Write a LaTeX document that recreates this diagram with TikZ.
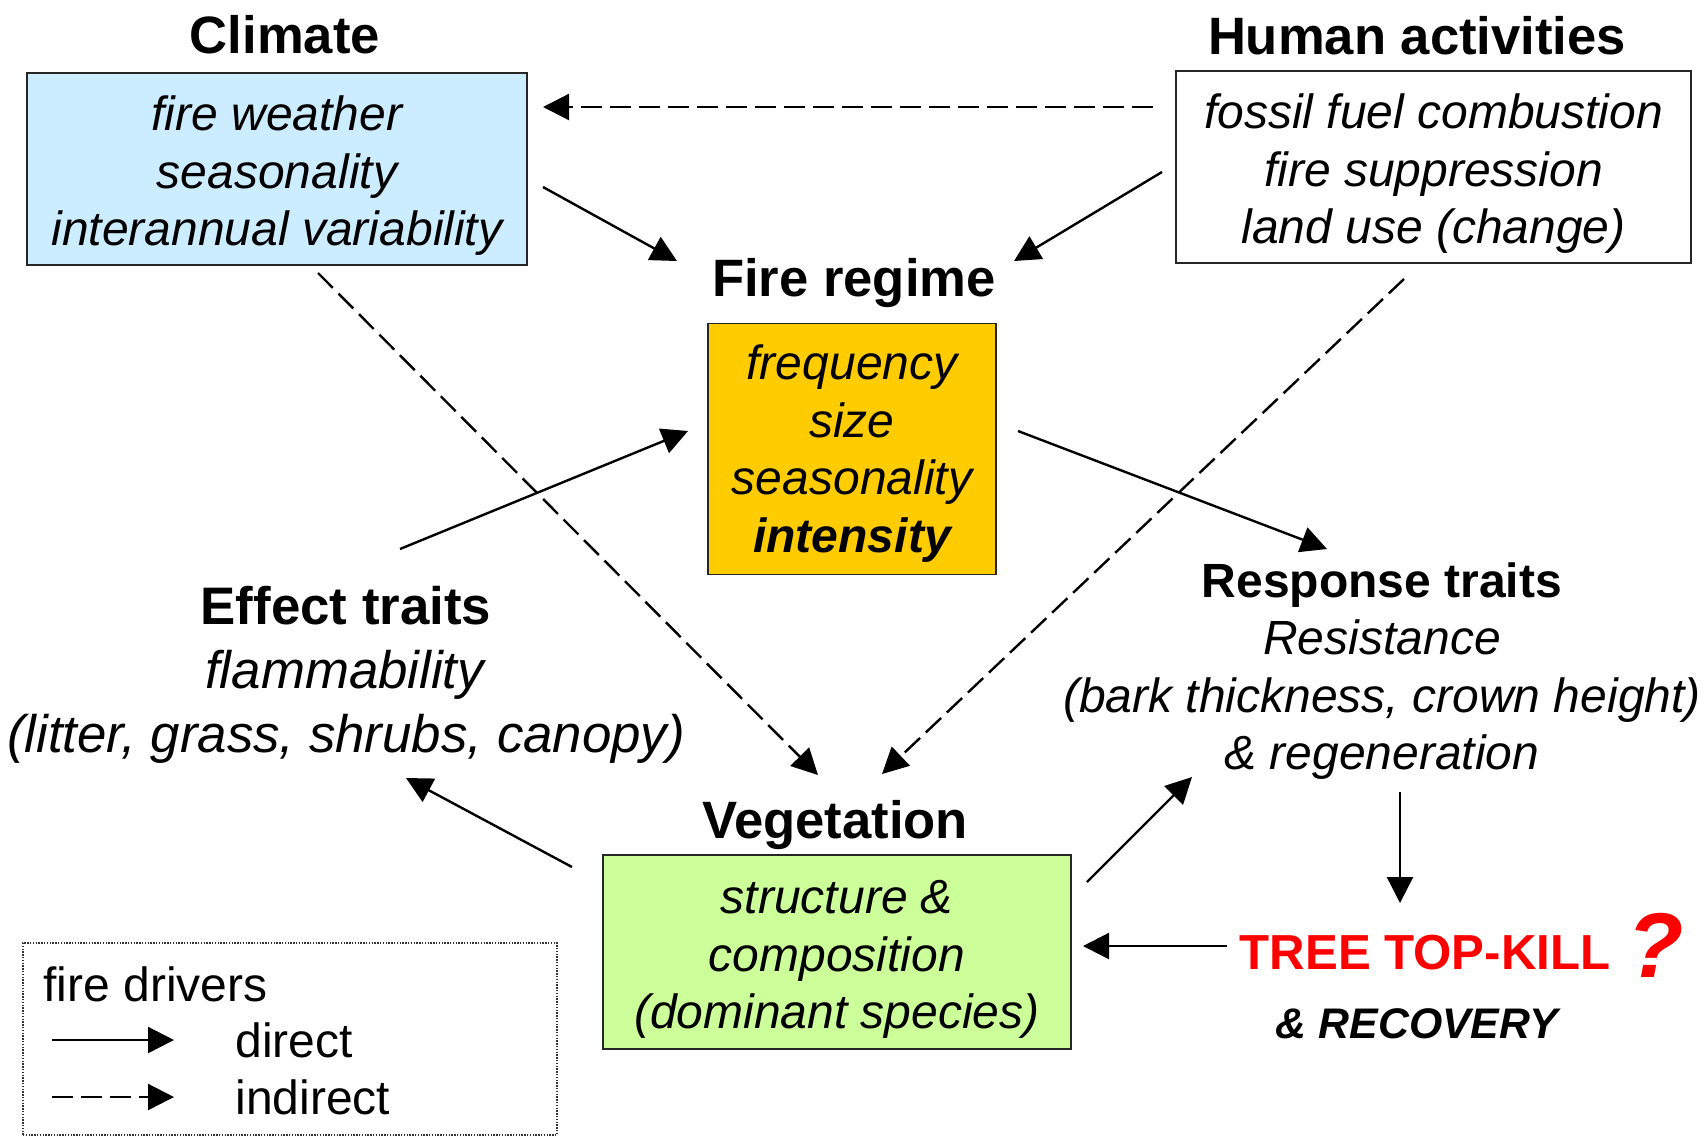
\documentclass[tikz,border=0pt]{standalone}
\usepackage{fontspec}
\setmainfont{Liberation Sans}
\usetikzlibrary{arrows.meta}

\definecolor{climfill}{HTML}{CCECFF}
\definecolor{firefill}{HTML}{FFCC00}
\definecolor{vegfill}{HTML}{CCFF99}
\definecolor{killred}{HTML}{FF0000}

\newcommand{\bodyfont}{\fontsize{24}{28.75}\selectfont\itshape}
\newcommand{\headfont}{\fontsize{26.3}{31.5}\selectfont\bfseries}

\begin{document}
\begin{tikzpicture}[x=0.5pt,y=-0.5pt,
  head/.style={font=\headfont, inner sep=0pt},
  panel/.style={draw=black!85, line width=0.7pt, align=center, font=\bodyfont, inner sep=0pt},
  plain/.style={inner sep=0pt, align=center},
  direct/.style={line width=1.2pt, -{Triangle[length=13pt,width=13pt]}},
  indirect/.style={direct, dash pattern=on 10.5pt off 4pt},
  legendframe/.style={draw=black!80, line width=0.6pt, dash pattern=on 0.7pt off 0.7pt}]

\fill[white] (0,0) rectangle (1706,1137);
\useasboundingbox (0,0) rectangle (1706,1137);

% drivers
\node[head] (climT) at (285,35) {Climate};
\node[panel, fill=climfill, minimum width=250pt, minimum height=96pt] (clim) at (277,169)
  {\rule{0pt}{24pt}fire weather\\seasonality\\interannual variability};

\node[head] (humT) at (1417,36) {Human activities};
\node[panel, fill=white, minimum width=257.5pt, minimum height=96pt] (hum) at (1433.5,167)
  {\rule{0pt}{24pt}fossil fuel combustion\\fire suppression\\land use (change)};

% fire regime
\node[head] (fireT) at (854,283) {Fire regime};
\node[panel, fill=firefill, minimum width=144pt, minimum height=125.5pt] (fire) at (852,449)
  {\rule{0pt}{22pt}frequency\\size\\seasonality\\\textbf{intensity}};

% vegetation
\node[head] (vegT) at (835,825) {Vegetation};
\node[panel, fill=vegfill, minimum width=234pt, minimum height=97pt] (veg) at (837,952)
  {\rule{0pt}{24pt}structure \&\\composition\\(dominant species)};

% traits
\node[plain, font=\fontsize{26.4}{32}\selectfont] (eff) at (346,675)
  {\textbf{Effect traits}\\\textit{flammability}\\\textit{(litter, grass, shrubs, canopy)}};
\node[plain, font=\fontsize{24}{28.8}\selectfont] (resp) at (1382,671)
  {\textbf{Response traits}\\\textit{Resistance}\\\textit{(bark thickness, crown height)}\\\textit{\& regeneration}};

% outcome
\node[plain, font=\fontsize{24.6}{30}\selectfont\bfseries, text=killred] (kill) at (1425,953) {TREE TOP-KILL};
\node[plain, font=\fontsize{46}{50}\selectfont\bfseries\itshape, text=killred] (quest) at (1656,945) {?};
\node[plain, font=\fontsize{21.4}{26}\selectfont\bfseries\itshape] (recov) at (1417,1024) {\& RECOVERY};

% arrow end points
\coordinate (h2cA) at (1153,107);  \coordinate (h2cB) at (543,107);
\coordinate (c2fA) at (543,187);   \coordinate (c2fB) at (677,261);
\coordinate (h2fA) at (1162,172);  \coordinate (h2fB) at (1014,261);
\coordinate (c2vA) at (318,273);   \coordinate (c2vB) at (818,775);
\coordinate (h2vA) at (1404,279);  \coordinate (h2vB) at (882,774);
\coordinate (e2fA) at (400,549);   \coordinate (e2fB) at (688,431);
\coordinate (f2rA) at (1018,431);  \coordinate (f2rB) at (1327,549);
\coordinate (v2eA) at (572,867);   \coordinate (v2eB) at (406,778);
\coordinate (v2rA) at (1087,882);  \coordinate (v2rB) at (1192,777);
\coordinate (r2kA) at (1400,792);  \coordinate (r2kB) at (1400,903);
\coordinate (k2vA) at (1227,946);  \coordinate (k2vB) at (1083,946);

\draw[indirect] (h2cA) -- (h2cB);
\draw[direct]   (c2fA) -- (c2fB);
\draw[direct]   (h2fA) -- (h2fB);
\draw[indirect] (c2vA) -- (c2vB);
\draw[indirect] (h2vA) -- (h2vB);
\draw[direct]   (e2fA) -- (e2fB);
\draw[direct]   (f2rA) -- (f2rB);
\draw[direct]   (v2eA) -- (v2eB);
\draw[direct]   (v2rA) -- (v2rB);
\draw[direct]   (r2kA) -- (r2kB);
\draw[direct]   (k2vA) -- (k2vB);

% legend
\node[legendframe, minimum width=267pt, minimum height=96pt, inner sep=0pt] (legend) at (290,1039) {};
\node[plain, anchor=west, font=\fontsize{24}{28}\selectfont] (ldrv) at (43,984) {fire drivers};
\node[plain, anchor=west, font=\fontsize{24}{28}\selectfont] (ldir) at (235,1040) {direct};
\node[plain, anchor=west, font=\fontsize{24}{28}\selectfont] (lind) at (235,1097) {indirect};
\coordinate (ldA) at (52,1040);  \coordinate (ldB) at (174,1040);
\coordinate (liA) at (52,1097);  \coordinate (liB) at (174,1097);
\draw[direct]   (ldA) -- (ldB);
\draw[indirect] (liA) -- (liB);

\end{tikzpicture}
\end{document}
